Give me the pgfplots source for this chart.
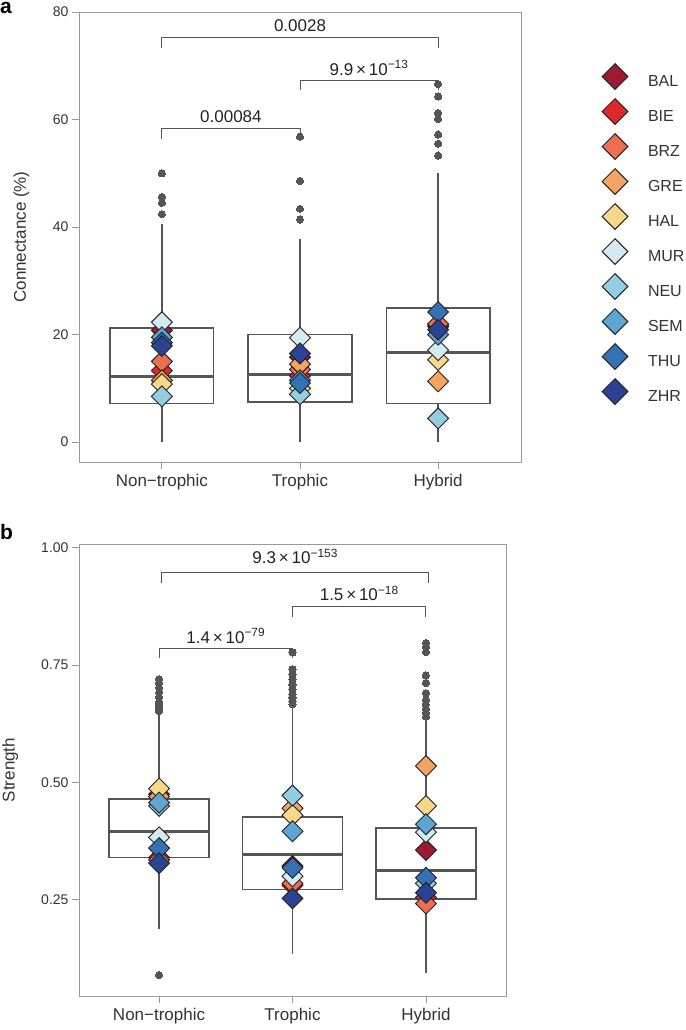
\documentclass[border=0pt]{standalone}
\usepackage{fontspec}
\setmainfont{Liberation Sans}
\usepackage{pgfplots}
\pgfplotsset{compat=1.18}
\usepgfplotslibrary{statistics}
\definecolor{cBAL}{HTML}{9E1A32}
\definecolor{cBIE}{HTML}{E0282C}
\definecolor{cBRZ}{HTML}{EE6E50}
\definecolor{cGRE}{HTML}{F4A460}
\definecolor{cHAL}{HTML}{F8D888}
\definecolor{cMUR}{HTML}{D2EAF0}
\definecolor{cNEU}{HTML}{92CDE2}
\definecolor{cSEM}{HTML}{5FA5D2}
\definecolor{cTHU}{HTML}{3472B6}
\definecolor{cZHR}{HTML}{2B4394}
\definecolor{edge}{HTML}{555555}
\definecolor{txt}{HTML}{333333}
\definecolor{spine}{HTML}{999999}
\definecolor{dedge}{HTML}{222222}
\begin{document}
\begin{tikzpicture}
\useasboundingbox (0pt,0pt) rectangle (685pt,-1030pt);
\pgfplotsset{
  common/.style={
    scale only axis,
    xmin=0.4, xmax=3.6,
    xtick={1,2,3},
    xticklabels={Non−trophic, Trophic, Hybrid},
    tick align=outside,
    major tick length=7pt,
    axis line style={spine, line width=0.8pt},
    tick style={spine, line width=0.8pt},
    xtick pos=bottom, ytick pos=left,
    /pgf/number format/assume math mode=true,
    yticklabel style={font=\fontsize{14}{16}\selectfont, text=txt},
    xticklabel style={font=\fontsize{17}{20}\selectfont, text=txt, yshift=-2pt},
    ylabel style={font=\fontsize{17}{20}\selectfont, text=txt},
    clip=false,
    boxplot/draw direction=y,
    boxplot/box extend=0.75,
    boxplot/whisker extend=0,
    boxplot/every box/.style={draw=edge, line width=1.6pt},
    boxplot/every whisker/.style={draw=edge, line width=1.3pt},
    boxplot/every median/.style={draw=edge, line width=3pt},
  },
  bp/.style={draw=edge, mark=*, mark size=3.6pt, mark options={fill=edge, draw=edge, line width=0pt}, forget plot},
  dia/.style={only marks, mark=square*, mark size=7.4pt, mark options={rotate=45, fill=#1, draw=dedge, line width=0.9pt}},
}
% ---------------- panel a ----------------
\node[anchor=north west, font=\fontsize{21}{24}\selectfont\bfseries, inner sep=0pt] at (0pt,-2pt) {a};
\begin{axis}[common,
  at={(79pt,-462pt)}, anchor=south west,
  width=442pt, height=450pt,
  ymin=-3.7, ymax=80,
  ytick={0,20,40,60,80},
  ylabel={Connectance (\%)},
  ylabel style={at={(axis description cs:-0.104,0.5)}},
  legend style={at={(1,1)}, anchor=north west, xshift=80pt, yshift=-47pt,
    draw=none, fill=none, inner sep=0pt, outer sep=0pt, row sep=0pt,
    font=\fontsize{16}{18}\selectfont, text=txt,
    /tikz/every odd column/.append style={column sep=17pt}},
  legend cell align=left,
  legend image code/.code={\path[draw=none, fill=none] (-14pt,-12pt) rectangle (14pt,23pt);
    \draw[#1, mark size=9.1pt] plot coordinates {(0pt,5.5pt)};},
]
\addplot[bp, boxplot prepared={draw direction=y, draw position=1, lower whisker=0, lower quartile=7.2, median=12.2, upper quartile=21.2, upper whisker=40.6}]
  coordinates {(1,42.4) (1,44.5) (1,45.6) (1,50.0)};
\addplot[bp, boxplot prepared={draw direction=y, draw position=2, lower whisker=0, lower quartile=7.5, median=12.5, upper quartile=20.0, upper whisker=37.8}]
  coordinates {(2,41.4) (2,43.4) (2,48.6) (2,56.8)};
\addplot[bp, boxplot prepared={draw direction=y, draw position=3, lower whisker=0, lower quartile=7.2, median=16.7, upper quartile=24.9, upper whisker=50.0}]
  coordinates {(3,53.3) (3,55.5) (3,57.2) (3,60.1) (3,61.2) (3,64.3) (3,66.6)};
\addplot[dia=cBAL] coordinates {(1,20.8) (2,15.8) (3,21.5)}; \addlegendentry{BAL}
\addplot[dia=cBIE] coordinates {(1,13.3) (2,12.3) (3,21.8)}; \addlegendentry{BIE}
\addplot[dia=cBRZ] coordinates {(1,15.0) (2,13.5) (3,22.0)}; \addlegendentry{BRZ}
\addplot[dia=cGRE] coordinates {(1,11.5) (2,14.5) (3,11.3)}; \addlegendentry{GRE}
\addplot[dia=cHAL] coordinates {(1,10.8) (2,10.0) (3,15.3)}; \addlegendentry{HAL}
\addplot[dia=cMUR] coordinates {(1,22.3) (2,19.4) (3,17.1)}; \addlegendentry{MUR}
\addplot[dia=cNEU] coordinates {(1,8.5) (2,8.9) (3,4.4)}; \addlegendentry{NEU}
\addplot[dia=cSEM] coordinates {(1,19.5) (2,11.5) (3,20.0)}; \addlegendentry{SEM}
\addplot[dia=cTHU] coordinates {(1,18.5) (2,11.0) (3,24.2)}; \addlegendentry{THU}
\addplot[dia=cZHR] coordinates {(1,17.9) (2,16.5) (3,20.9)}; \addlegendentry{ZHR}
% significance brackets
\draw[edge, line width=1pt] (axis cs:1,73.3) |- (axis cs:3,75.2) -- (axis cs:3,73.3);
\node[font=\fontsize{17}{20}\selectfont, text=dedge] at (axis cs:2,77.5) {0.0028};
\draw[edge, line width=1pt] (axis cs:2,65.4) |- (axis cs:3,67.3) -- (axis cs:3,65.4);
\node[font=\fontsize{17}{20}\selectfont, text=dedge] at (axis cs:2.5,69.6) {9.9\,×\,10\textsuperscript{−13}};
\draw[edge, line width=1pt] (axis cs:1,56.4) |- (axis cs:2,58.4) -- (axis cs:2,56.4);
\node[font=\fontsize{17}{20}\selectfont, text=dedge] at (axis cs:1.5,60.6) {0.00084};
\end{axis}
% ---------------- panel b ----------------
\node[anchor=north west, font=\fontsize{21}{24}\selectfont\bfseries, inner sep=0pt] at (0pt,-524pt) {b};
\begin{axis}[common,
  at={(79pt,-996pt)}, anchor=south west,
  width=427pt, height=452pt,
  ymin=0.045, ymax=1.008,
  ytick={0.25,0.5,0.75,1},
  yticklabel style={/pgf/number format/.cd, fixed, fixed zerofill, precision=2},
  ylabel={Strength},
  ylabel style={at={(axis description cs:-0.134,0.5)}},
]
\addplot[bp, boxplot prepared={draw direction=y, draw position=1, lower whisker=0.187, lower quartile=0.340, median=0.396, upper quartile=0.465, upper whisker=0.647}]
  coordinates {(1,0.0895) (1,0.652) (1,0.658) (1,0.665) (1,0.672) (1,0.682) (1,0.692) (1,0.702) (1,0.712) (1,0.72)};
\addplot[bp, boxplot prepared={draw direction=y, draw position=2, lower whisker=0.134, lower quartile=0.272, median=0.347, upper quartile=0.427, upper whisker=0.661}]
  coordinates {(2,0.667) (2,0.673) (2,0.68) (2,0.688) (2,0.698) (2,0.708) (2,0.72) (2,0.73) (2,0.741) (2,0.777)};
\addplot[bp, boxplot prepared={draw direction=y, draw position=3, lower whisker=0.094, lower quartile=0.2515, median=0.313, upper quartile=0.4035, upper whisker=0.633}]
  coordinates {(3,0.64) (3,0.648) (3,0.657) (3,0.666) (3,0.676) (3,0.69) (3,0.712) (3,0.728) (3,0.778) (3,0.788) (3,0.797)};
\addplot[dia=cBAL] coordinates {(1,0.475) (2,0.322) (3,0.356)};
\addplot[dia=cBIE] coordinates {(1,0.340) (2,0.281) (3,0.255)};
\addplot[dia=cBRZ] coordinates {(1,0.335) (2,0.285) (3,0.242)};
\addplot[dia=cGRE] coordinates {(1,0.470) (2,0.445) (3,0.535)};
\addplot[dia=cHAL] coordinates {(1,0.487) (2,0.430) (3,0.450)};
\addplot[dia=cMUR] coordinates {(1,0.383) (2,0.300) (3,0.394)};
\addplot[dia=cNEU] coordinates {(1,0.450) (2,0.472) (3,0.285)};
\addplot[dia=cSEM] coordinates {(1,0.457) (2,0.396) (3,0.411)};
\addplot[dia=cTHU] coordinates {(1,0.360) (2,0.318) (3,0.297)};
\addplot[dia=cZHR] coordinates {(1,0.328) (2,0.253) (3,0.265)};
\draw[edge, line width=1pt] (axis cs:1.02,0.925) |- (axis cs:3.02,0.947) -- (axis cs:3.02,0.925);
\node[font=\fontsize{17}{20}\selectfont, text=dedge] at (axis cs:2.02,0.982) {9.3\,×\,10\textsuperscript{−153}};
\draw[edge, line width=1pt] (axis cs:2,0.853) |- (axis cs:3,0.875) -- (axis cs:3,0.853);
\node[font=\fontsize{17}{20}\selectfont, text=dedge] at (axis cs:2.5,0.902) {1.5\,×\,10\textsuperscript{−18}};
\draw[edge, line width=1pt] (axis cs:1,0.765) |- (axis cs:2,0.785) -- (axis cs:2,0.765);
\node[font=\fontsize{17}{20}\selectfont, text=dedge] at (axis cs:1.5,0.812) {1.4\,×\,10\textsuperscript{−79}};
\end{axis}
\end{tikzpicture}
\end{document}
